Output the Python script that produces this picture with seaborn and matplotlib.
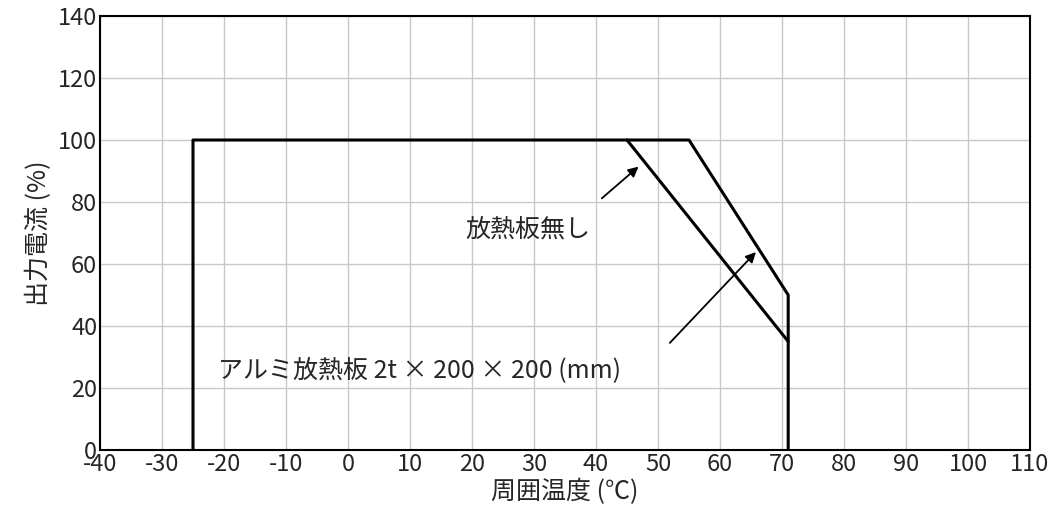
import matplotlib
matplotlib.use("Agg")
import matplotlib.pyplot as plt
import seaborn as sns
import pandas as pd

sns.set_theme(style="white")
plt.rcParams['font.family'] = ['Noto Sans CJK JP', 'DejaVu Sans']
plt.rcParams['axes.unicode_minus'] = False

no_sink_x = [-25, -25, 45, 71, 71]
no_sink_y = [0, 100, 100, 35, 0]
alu_x = [45, 55, 71, 71]
alu_y = [100, 100, 50, 35]
xticks = list(range(-40, 111, 10))
yticks = list(range(0, 141, 20))

fig = plt.figure(figsize=(10.58, 5.25), dpi=100)
ax = fig.add_axes([100/1058, 1-450/525, 930/1058, 434/525])
sns.lineplot(x=no_sink_x, y=no_sink_y, sort=False, estimator=None, color='black', lw=2.2, ax=ax)
sns.lineplot(x=alu_x, y=alu_y, sort=False, estimator=None, color='black', lw=2.2, ax=ax)
ax.set_xlim(-40, 110); ax.set_ylim(0, 140)
ax.set_xticks(xticks); ax.set_yticks(yticks)
ax.set_xticklabels([str(t) for t in xticks])
ax.tick_params(labelsize=17, length=0, pad=2)
ax.grid(True, color='#c8c8c8', lw=1)
for s in ax.spines.values():
    s.set_color('black'); s.set_linewidth(1.5)
ax.set_xlabel('周囲温度 (℃)', fontsize=18, labelpad=2)
ax.set_ylabel('出力電流 (%)', fontsize=18, labelpad=4)
ax.text(19, 71, '放熱板無し', fontsize=18, va='center')
ax.annotate('', xy=(47.2, 92), xytext=(40.6, 80.6),
            arrowprops=dict(arrowstyle='-|>', color='black', lw=1.3, mutation_scale=15))
ax.text(-21, 25.8, 'アルミ放熱板 2t × 200 × 200 (mm)', fontsize=18, va='center')
ax.annotate('', xy=(66.1, 64.5), xytext=(51.6, 33.9),
            arrowprops=dict(arrowstyle='-|>', color='black', lw=1.3, mutation_scale=15))
fig.savefig('out.png', dpi=100)
